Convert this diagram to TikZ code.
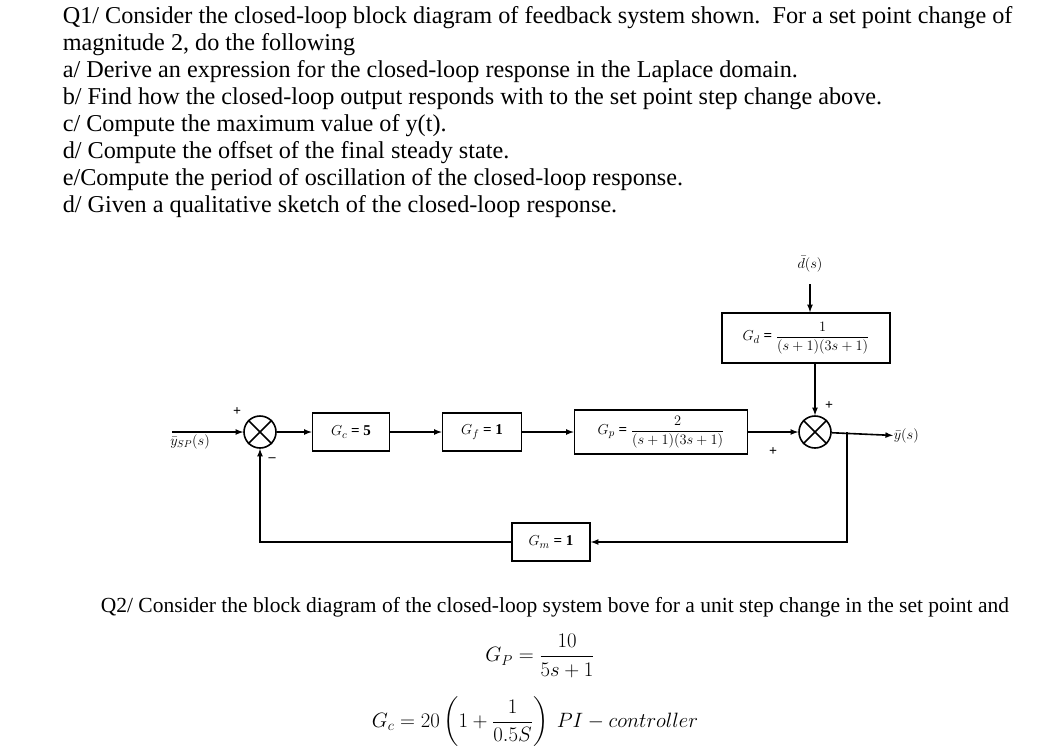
\documentclass[tikz,border=0pt]{standalone}
\usepackage{amsmath}
\usepackage{fontspec}
\setmainfont{Liberation Serif}
\usetikzlibrary{positioning}
\begin{document}
\begin{tikzpicture}[x=1pt, y=-1pt, >=latex, line width=1.6pt]
    \tikzset{
        txt/.style={anchor=west, inner sep=0pt, font=\fontsize{24.2}{27}\selectfont},
        blk/.style={draw, inner sep=0pt, font=\fontsize{15}{17}\selectfont\bfseries},
        sum/.style={draw, circle, minimum size=32pt, inner sep=0pt},
        lbl/.style={inner sep=0pt, font=\fontsize{14}{16}\selectfont\bfseries}
    }
    \useasboundingbox (0,0) rectangle (1056,753);

    % question text
    \node[txt] (l1) at (62,18) {Q1/ Consider the closed-loop block diagram of feedback system shown.\ \ For a set point change of};
    \node[txt] (l2) at (62,45) {magnitude 2, do the following};
    \node[txt] (l3) at (62,72) {a/ Derive an expression for the closed-loop response in the Laplace domain.};
    \node[txt] (l4) at (62,99) {b/ Find how the closed-loop output responds with to the set point step change above.};
    \node[txt] (l5) at (62,126) {c/ Compute the maximum value of y(t).};
    \node[txt] (l6) at (62,153) {d/ Compute the offset of the final steady state.};
    \node[txt] (l7) at (62,180) {e/Compute the period of oscillation of the closed-loop response.};
    \node[txt] (l8) at (62,207) {d/ Given a qualitative sketch of the closed-loop response.};

    % block diagram
    \node[sum] (s1) at (260,432) {};
    \node[sum] (s2) at (815,432) {};
    \foreach \s in {s1, s2} {
        \draw (\s.north west) -- (\s.south east);
        \draw (\s.north east) -- (\s.south west);
    }
    \node[blk, minimum width=77pt, minimum height=38pt] (gc) at (351,432) {$G_c$ = 5};
    \node[blk, minimum width=79pt, minimum height=38pt] (gf) at (482,432) {$G_f$ = 1};
    \node[blk, minimum width=173pt, minimum height=44pt] (gp) at (661,432) {$G_p$ = $\dfrac{2}{(s+1)(3s+1)}$};
    \node[blk, minimum width=168pt, minimum height=50pt] (gd) at (806,338) {$G_d$ = $\dfrac{1}{(s+1)(3s+1)}$};
    \node[blk, minimum width=78pt, minimum height=38pt] (gm) at (551,542) {$G_m$ = 1};
    \node[lbl] (d) at (810,264) {$\bar d(s)$};
    \node[lbl] (ysp) at (190,442) {$\bar y_{SP}(s)$};
    \node[lbl, anchor=west] (y) at (893,436) {$\bar y(s)$};
    \coordinate (in) at (172,432);
    \coordinate (br) at (847,432);
    \coordinate (dtop) at (810,284);

    \draw[->] (in) -- (s1);
    \draw[->] (s1) -- (gc);
    \draw[->] (gc) -- (gf);
    \draw[->] (gf) -- (gp);
    \draw[->] (gp) -- (s2);
    \draw[->] (dtop) -- (dtop |- gd.north);
    \draw[->] (gd.south -| s2) -- (s2);
    \draw[->] (s2) -- (y);
    \draw[->] (br) |- (gm);
    \draw[->] (gm) -| (s1);

    \node[lbl] at (237,412) {+};
    \node[lbl] at (272,460) {--};
    \node[lbl] at (829,406) {+};
    \node[lbl] at (773,452) {+};

    % second question
    \node[txt, font=\fontsize{21.5}{24}\selectfont] (q2) at (100,607) {Q2/ Consider the block diagram of the closed-loop system bove for a unit step change in the set point and};
    \node[inner sep=0pt, font=\fontsize{20}{24}\selectfont] (eq1) at (540,656) {$G_P = \dfrac{10}{5s+1}$};
    \node[inner sep=0pt, font=\fontsize{20}{24}\selectfont] (eq2) at (535,722) {$G_c = 20\left(1+\dfrac{1}{0.5S}\right)\ PI - controller$};
\end{tikzpicture}
\end{document}
